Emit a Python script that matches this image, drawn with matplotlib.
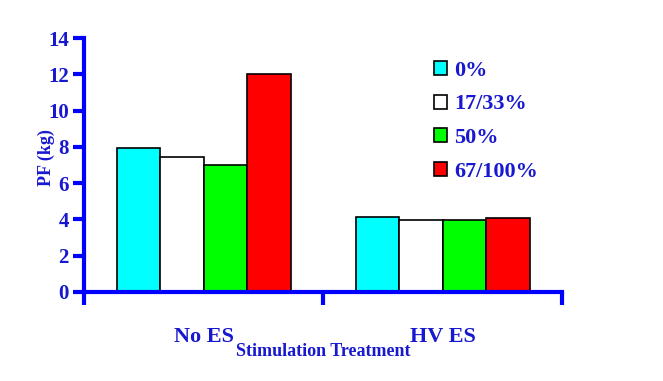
import numpy as np
import matplotlib.pyplot as plt

groups = ['No ES', 'HV ES']
series = ['0%', '17/33%', '50%', '67/100%']
values = [[7.95, 4.15],
          [7.45, 3.97],
          [7.0, 3.97],
          [12.02, 4.08]]
colors = ['#00ffff', '#ffffff', '#00ff00', '#ff0000']
yticks = [0, 2, 4, 6, 8, 10, 12, 14]

blue = '#0000ff'
tblue = '#1818d0'
plt.rcParams['font.family'] = ['Liberation Serif', 'DejaVu Serif']
plt.rcParams['font.weight'] = 'bold'
plt.rcParams['axes.labelweight'] = 'bold'

fig = plt.figure(figsize=(6.63, 3.81), dpi=100)
ax = fig.add_axes([0.127, 0.234, 0.721, 0.666])

x = np.arange(len(groups))
w = 0.182
for i in range(len(series)):
    ax.bar(x + (i - 1.5) * w, values[i], w, color=colors[i], edgecolor='black',
           linewidth=1.2, label=series[i], zorder=2)

ax.set_xlim(-0.5, 1.5)
ax.set_ylim(0, 14)
for s in ['top', 'right']:
    ax.spines[s].set_visible(False)
for s in ['left', 'bottom']:
    ax.spines[s].set_color(blue)
    ax.spines[s].set_linewidth(3)
    ax.spines[s].set_zorder(3)

ax.set_yticks(yticks)
ax.tick_params(axis='y', colors=blue, labelcolor=tblue, length=8, width=3,
               labelsize=15, pad=3)
ax.set_xticks([-0.5, 0.5, 1.5])
ax.set_xticklabels([])
ax.set_xticks(x, minor=True)
ax.set_xticklabels(groups, minor=True)
ax.tick_params(axis='x', which='major', colors=blue, length=9, width=3)
ax.tick_params(axis='x', which='minor', length=0, labelcolor=tblue,
               labelsize=16, pad=25)

ax.set_ylabel('PF (kg)', color=tblue, fontsize=13)
ax.yaxis.set_label_coords(-0.062, 0.53)
ax.set_xlabel('Stimulation Treatment', color=tblue, fontsize=13)
ax.xaxis.set_label_coords(0.5, -0.2)

leg = ax.legend(loc='upper left', bbox_to_anchor=(0.69, 0.99), frameon=False,
                fontsize=16, handlelength=0.6, handleheight=0.6,
                handletextpad=0.3, labelspacing=0.62)
for t in leg.get_texts():
    t.set_color(tblue)

fig.savefig('out.png', dpi=100)
